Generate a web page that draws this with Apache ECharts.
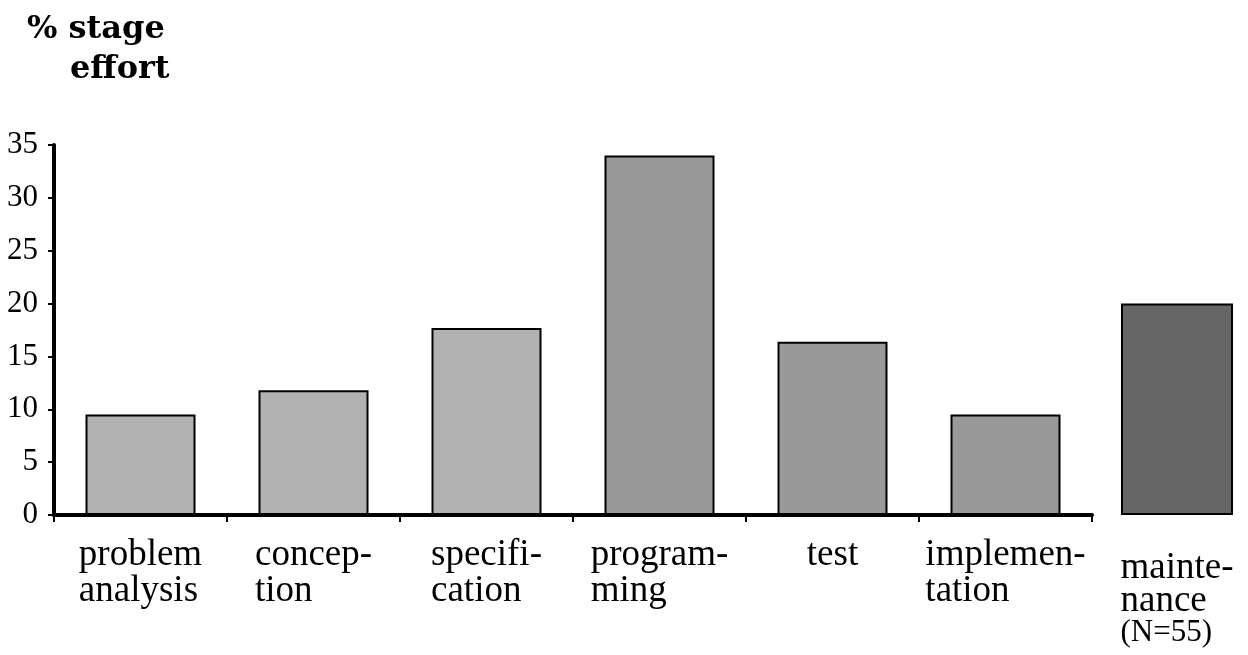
<!DOCTYPE html>
<html>
<head>
<meta charset="utf-8">
<script src="https://cdn.jsdelivr.net/npm/echarts@6/dist/echarts.min.js"></script>
<style>
html,body{margin:0;padding:0;background:#fff;}
#chart{width:1248px;height:655px;}
</style>
</head>
<body>
<div id="chart"></div>
<script>
var categories = ['problem\nanalysis', 'concep-\ntion', 'specifi-\ncation', 'program-\nming', 'test', 'implemen-\ntation'];
var values = [9.5, 11.8, 17.7, 34.0, 16.4, 9.5];
var barColors = ['#b2b2b2', '#b2b2b2', '#b2b2b2', '#999999', '#999999', '#999999'];
var extraCategory = ['mainte-\nnance\n(N=55)'];
var extraValues = [20];
var extraColor = '#666666';
var yTicks = [0, 5, 10, 15, 20, 25, 30, 35];

var serif = '"Liberation Serif", "Times New Roman", serif';
var titleFont = '"DejaVu Serif", serif';

function richLabel(v) {
  var lines = v.split('\n');
  return lines.map(function (l) {
    return /^\(/.test(l) ? '{b|' + l + '}' : '{a|' + l + '}';
  }).join('\n');
}
var rich = {
  a: { fontFamily: serif, fontSize: 37, lineHeight: 36, color: '#000', align: 'left' },
  b: { fontFamily: serif, fontSize: 31, lineHeight: 30, color: '#000', align: 'left' }
};
var richExtra = {
  a: { fontFamily: serif, fontSize: 37, lineHeight: 33, color: '#000', align: 'left' },
  b: { fontFamily: serif, fontSize: 31, lineHeight: 30, color: '#000', align: 'left' }
};

var chart = echarts.init(document.getElementById('chart'), null, { renderer: 'canvas' });
chart.setOption({
  backgroundColor: '#fff',
  animation: false,
  title: [
    { text: '% stage', left: 27, top: 14, padding: 0, textStyle: { fontFamily: titleFont, fontWeight: 'bold', fontSize: 32, color: '#000' } },
    { text: 'effort', left: 70, top: 54, padding: 0, textStyle: { fontFamily: titleFont, fontWeight: 'bold', fontSize: 32, color: '#000' } }
  ],
  grid: [
    { left: 54, right: 156, top: 145, bottom: 140, containLabel: false },
    { left: 1106, right: 0, top: 145, bottom: 140, containLabel: false }
  ],
  xAxis: [
    {
      type: 'category', gridIndex: 0, data: categories,
      axisLine: { lineStyle: { color: '#000', width: 4 } },
      axisTick: { show: true, inside: false, length: 7, lineStyle: { color: '#000', width: 2 } },
      axisLabel: { margin: 22, interval: 0, formatter: richLabel, rich: rich, align: 'center' }
    },
    {
      type: 'category', gridIndex: 1, data: extraCategory,
      axisLine: { show: false }, axisTick: { show: false },
      axisLabel: { margin: 37, interval: 0, formatter: richLabel, rich: richExtra, align: 'center' }
    }
  ],
  yAxis: [
    {
      type: 'value', gridIndex: 0, min: 0, max: 35, interval: 5,
      axisLine: { show: true, lineStyle: { color: '#000', width: 4 } },
      axisTick: { show: true, inside: false, length: 6, lineStyle: { color: '#000', width: 2 } },
      splitLine: { show: false },
      axisLabel: { margin: 16, fontFamily: serif, fontSize: 31, color: '#000',
        formatter: function (v) { return yTicks.indexOf(v) >= 0 ? String(v) : ''; } }
    },
    {
      type: 'value', gridIndex: 1, min: 0, max: 35, interval: 5, show: false,
      splitLine: { show: false }
    }
  ],
  series: [
    {
      type: 'bar', xAxisIndex: 0, yAxisIndex: 0, barWidth: 110,
      data: values.map(function (v, i) {
        return { value: v, itemStyle: { color: barColors[i] } };
      }),
      itemStyle: { borderColor: '#000', borderWidth: 2 }
    },
    {
      type: 'bar', xAxisIndex: 1, yAxisIndex: 1, barWidth: 112,
      data: extraValues,
      itemStyle: { color: extraColor, borderColor: '#000', borderWidth: 2 }
    }
  ]
});
</script>
</body>
</html>
